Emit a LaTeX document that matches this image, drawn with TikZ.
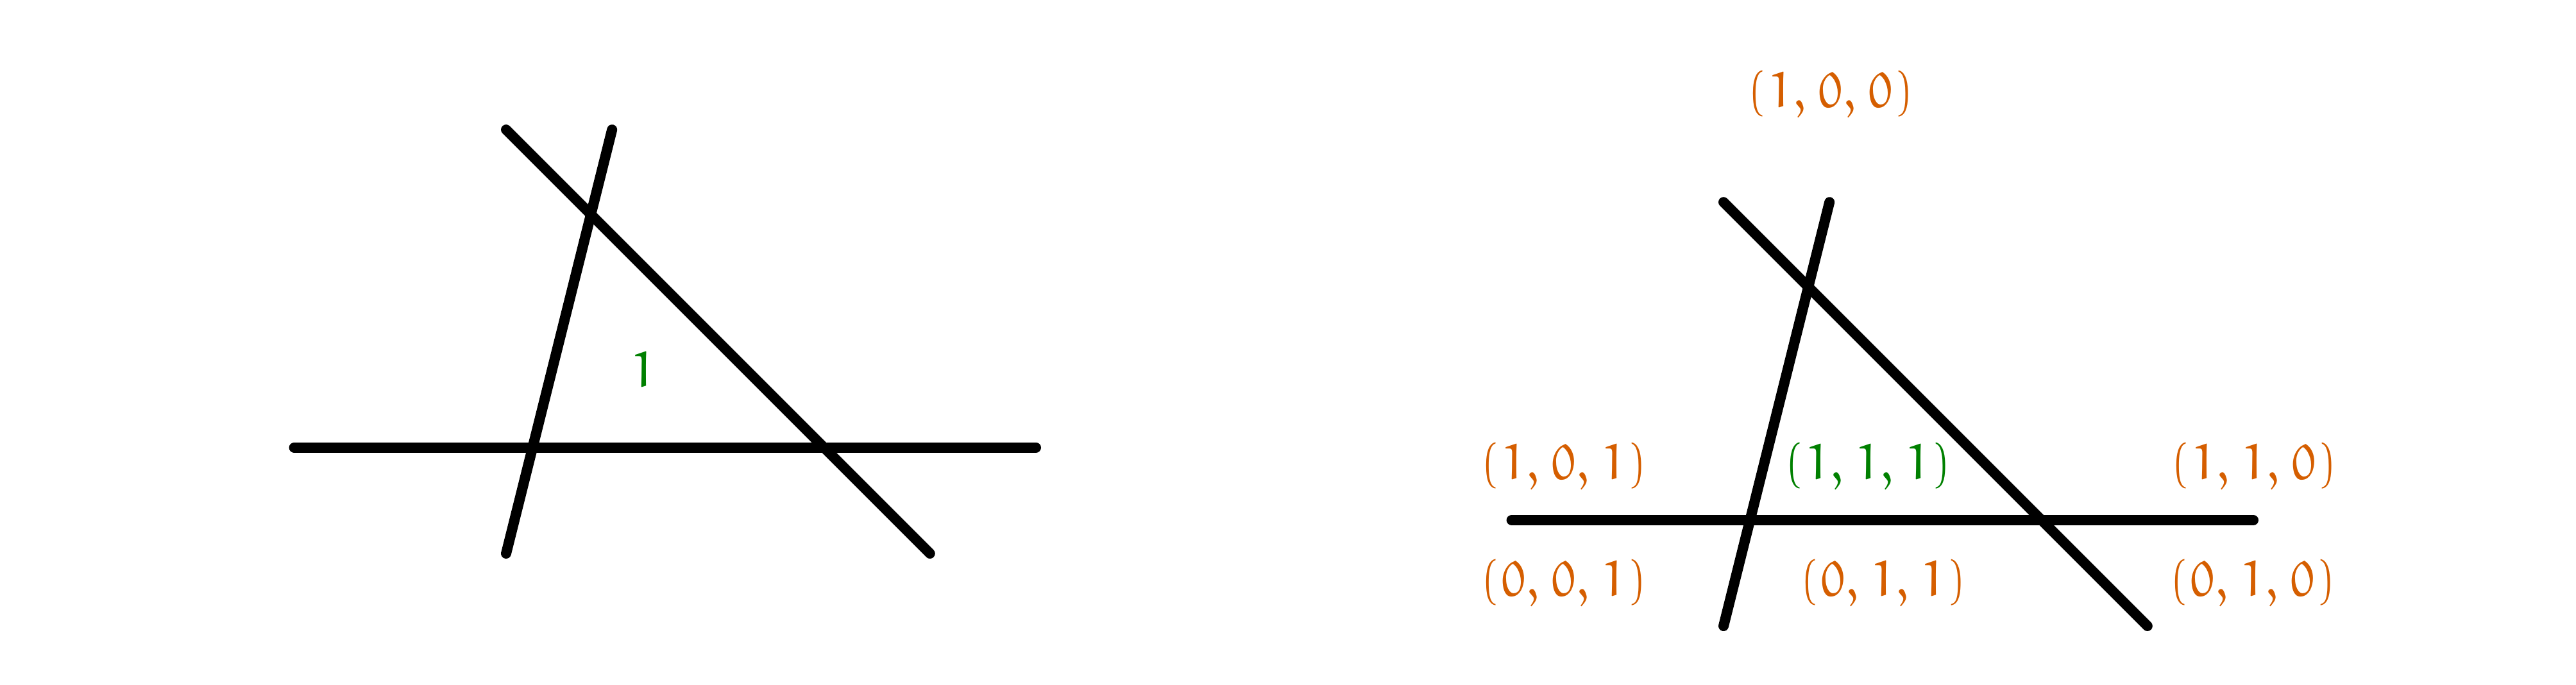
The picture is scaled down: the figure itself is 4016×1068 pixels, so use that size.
\documentclass[tikz,border=0pt]{standalone}
\definecolor{vorange}{RGB}{213,94,0}
\definecolor{vgreen}{RGB}{0,128,0}
\font\eurmf=eurm10 at 19.5pt
\font\eufmf=eufm10 at 19.5pt
\newcommand\eulp{{\eufmf\char40}}
\newcommand\eurp{{\eufmf\char41}}
\newcommand\eucomma{\char59\kern.22em}
\newcommand\tripl[3]{\eulp\kern.05em{\eurmf #1\eucomma #2\eucomma #3}\kern.05em\eurp}
\tikzset{
  lineseg/.style={line width=4pt,line cap=round,black},
  lab/.style={inner sep=0pt},
  orangelab/.style={lab,text=vorange},
  greenlab/.style={lab,text=vgreen}
}
\begin{document}
\begin{tikzpicture}[x=0.25pt,y=-0.25pt]
\useasboundingbox (0,0) rectangle (4016,1068);
% left figure
\coordinate (la1) at (789,863);
\coordinate (la2) at (954.2,202.2);
\coordinate (lb1) at (789,202.2);
\coordinate (lb2) at (1449.8,863);
\coordinate (lc1) at (458.6,697.8);
\coordinate (lc2) at (1615,697.8);
\draw[lineseg] (la1) -- (la2);
\draw[lineseg] (lb1) -- (lb2);
\draw[lineseg] (lc1) -- (lc2);
\node[greenlab] (lone) at (1003,577) {\eurmf 1};
% right figure
\coordinate (ra1) at (2687,976);
\coordinate (ra2) at (2852.2,315.2);
\coordinate (rb1) at (2687,315.2);
\coordinate (rb2) at (3347.8,976);
\coordinate (rc1) at (2356.6,810.8);
\coordinate (rc2) at (3513,810.8);
\draw[lineseg] (ra1) -- (ra2);
\draw[lineseg] (rb1) -- (rb2);
\draw[lineseg] (rc1) -- (rc2);
\node[orangelab] (t100) at (2854,148) {\tripl{1}{0}{0}};
\node[orangelab] (t101) at (2438,728) {\tripl{1}{0}{1}};
\node[greenlab]  (t111) at (2912,728) {\tripl{1}{1}{1}};
\node[orangelab] (t110) at (3514,728) {\tripl{1}{1}{0}};
\node[orangelab] (t001) at (2438,910) {\tripl{0}{0}{1}};
\node[orangelab] (t011) at (2936,910) {\tripl{0}{1}{1}};
\node[orangelab] (t010) at (3512,910) {\tripl{0}{1}{0}};
\end{tikzpicture}
\end{document}
